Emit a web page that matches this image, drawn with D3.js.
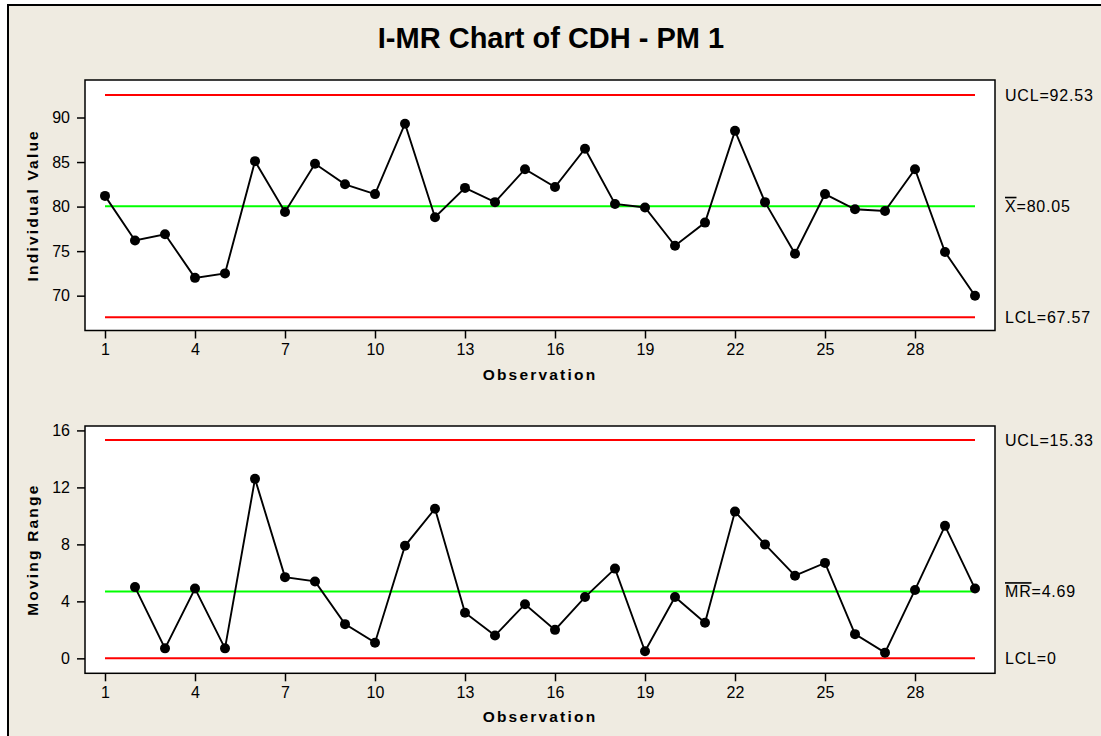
<!DOCTYPE html>
<html lang="en">
<head>
<meta charset="UTF-8">
<title>I-MR Chart of CDH - PM 1</title>
<style>
    html, body { margin: 0; padding: 0; overflow: hidden; background: #ffffff; }
    svg { display: block; }
    svg text { font-family: "Liberation Sans", Arial, sans-serif; fill: #000; }
    .tick text { font-size: 16px; }
    .tick line { stroke: #000; stroke-width: 1.5px; }
    .axis-title { font-size: 15.5px; font-weight: bold; letter-spacing: 2.2px; }
    .limit-label { font-size: 16px; letter-spacing: 0.8px; }
</style>
</head>
<body>
<div id="chart"></div>
<script src="https://d3js.org/d3.v7.min.js"></script>
<script>
// observations 1..30
var observations = d3.range(1, 31);

// individual values
var individual = [81.2, 76.2, 76.9, 72.0, 72.5, 85.1, 79.4, 84.8, 82.5, 81.4,
                  89.3, 78.8, 82.1, 80.5, 84.2, 82.2, 86.5, 80.3, 79.9, 75.6,
                  78.2, 88.5, 80.5, 74.7, 81.4, 79.7, 79.5, 84.2, 74.9, 70.0];

// moving ranges, observations 2..30
var movingRange = [5.0, 0.7, 4.9, 0.7, 12.6, 5.7, 5.4, 2.4, 1.1, 7.9,
                   10.5, 3.2, 1.6, 3.8, 2.0, 4.3, 6.3, 0.5, 4.3, 2.5,
                   10.3, 8.0, 5.8, 6.7, 1.7, 0.4, 4.8, 9.3, 4.9];

// control limits
var iLimits = { ucl: 92.53, center: 80.05, lcl: 67.57 };
var mrLimits = { ucl: 15.33, center: 4.69, lcl: 0 };

var xTicks = [1, 4, 7, 10, 13, 16, 19, 22, 25, 28];
var iTicks = [70, 75, 80, 85, 90];
var mrTicks = [0, 4, 8, 12, 16];

var width = 1101, height = 736;

var svg = d3.select("#chart").append("svg")
    .attr("width", width)
    .attr("height", height);

// beige background, frame visible on left/top only
svg.append("rect")
    .attr("x", 8).attr("y", 5)
    .attr("width", 1200).attr("height", 800)
    .attr("fill", "#efebe1")
    .attr("stroke", "#000")
    .attr("stroke-width", 2);

svg.append("text")
    .attr("x", 551)
    .attr("y", 48)
    .attr("text-anchor", "middle")
    .attr("font-size", "29px")
    .attr("font-weight", "bold")
    .text("I-MR Chart of CDH - PM 1");

var left = 85, right = 995;
var x = d3.scaleLinear().domain([1 / 3, 30 + 2 / 3]).range([left, right]);

function drawPanel(cfg) {
    var y = d3.scaleLinear().domain(cfg.domain).range([cfg.bottom, cfg.top]);
    var g = svg.append("g");

    g.append("rect")
        .attr("x", left).attr("y", cfg.top)
        .attr("width", right - left).attr("height", cfg.bottom - cfg.top)
        .attr("fill", "#fff")
        .attr("stroke", "#000")
        .attr("stroke-width", 1.5);

    // y axis
    var ya = g.append("g")
        .attr("transform", "translate(" + left + ",0)")
        .call(d3.axisLeft(y).tickValues(cfg.ticks).tickSize(8).tickPadding(7));
    ya.select(".domain").remove();
    ya.selectAll(".tick text").attr("font-size", null).attr("font-family", null);

    // x axis
    var xa = g.append("g")
        .attr("transform", "translate(0," + cfg.bottom + ")")
        .call(d3.axisBottom(x).tickValues(xTicks).tickSize(8).tickPadding(5));
    xa.select(".domain").remove();
    xa.selectAll(".tick text").attr("font-size", null).attr("font-family", null);

    // axis titles
    g.append("text")
        .attr("class", "axis-title")
        .attr("x", (left + right) / 2)
        .attr("y", cfg.bottom + 49)
        .attr("text-anchor", "middle")
        .text("Observation");

    g.append("text")
        .attr("class", "axis-title")
        .attr("transform", "translate(38," + ((cfg.top + cfg.bottom) / 2) + ") rotate(-90)")
        .attr("text-anchor", "middle")
        .text(cfg.yTitle);

    // control lines
    var lines = [
        { v: cfg.limits.ucl, color: "#ff0000" },
        { v: cfg.limits.center, color: "#00ff00" },
        { v: cfg.limits.lcl, color: "#ff0000" }
    ];
    g.selectAll(".ctl").data(lines).enter().append("line")
        .attr("x1", x(1)).attr("x2", x(30))
        .attr("y1", function(d) { return y(d.v); })
        .attr("y2", function(d) { return y(d.v); })
        .attr("stroke", function(d) { return d.color; })
        .attr("stroke-width", 2);

    // data line + points
    var pts = cfg.values.map(function(v, i) { return { obs: cfg.obs[i], v: v }; });
    var line = d3.line().x(function(d) { return x(d.obs); }).y(function(d) { return y(d.v); });
    g.append("path")
        .datum(pts)
        .attr("d", line)
        .attr("fill", "none")
        .attr("stroke", "#000")
        .attr("stroke-width", 1.9);
    g.selectAll(".pt").data(pts).enter().append("circle")
        .attr("cx", function(d) { return x(d.obs); })
        .attr("cy", function(d) { return y(d.v); })
        .attr("r", 5)
        .attr("fill", "#000");

    // limit labels on the right
    cfg.labels.forEach(function(lb) {
        var t = g.append("text")
            .attr("class", "limit-label")
            .attr("x", 1005)
            .attr("y", y(lb.v))
            .attr("dy", "0.35em");
        t.append("tspan").style("text-decoration", lb.bar ? "overline" : null).text(lb.name);
        t.append("tspan").text("=" + lb.text);
    });
}

drawPanel({
    top: 80, bottom: 330.5,
    domain: [66.09, 94.21],
    ticks: iTicks,
    yTitle: "Individual Value",
    limits: iLimits,
    obs: observations,
    values: individual,
    labels: [
        { name: "UCL", v: iLimits.ucl, text: "92.53" },
        { name: "X", v: iLimits.center, text: "80.05", bar: true },
        { name: "LCL", v: iLimits.lcl, text: "67.57" }
    ]
});

drawPanel({
    top: 426, bottom: 673.3,
    domain: [-1.05, 16.31],
    ticks: mrTicks,
    yTitle: "Moving Range",
    limits: mrLimits,
    obs: observations.slice(1),
    values: movingRange,
    labels: [
        { name: "UCL", v: mrLimits.ucl, text: "15.33" },
        { name: "MR", v: mrLimits.center, text: "4.69", bar: true },
        { name: "LCL", v: mrLimits.lcl, text: "0" }
    ]
});
</script>
</body>
</html>
